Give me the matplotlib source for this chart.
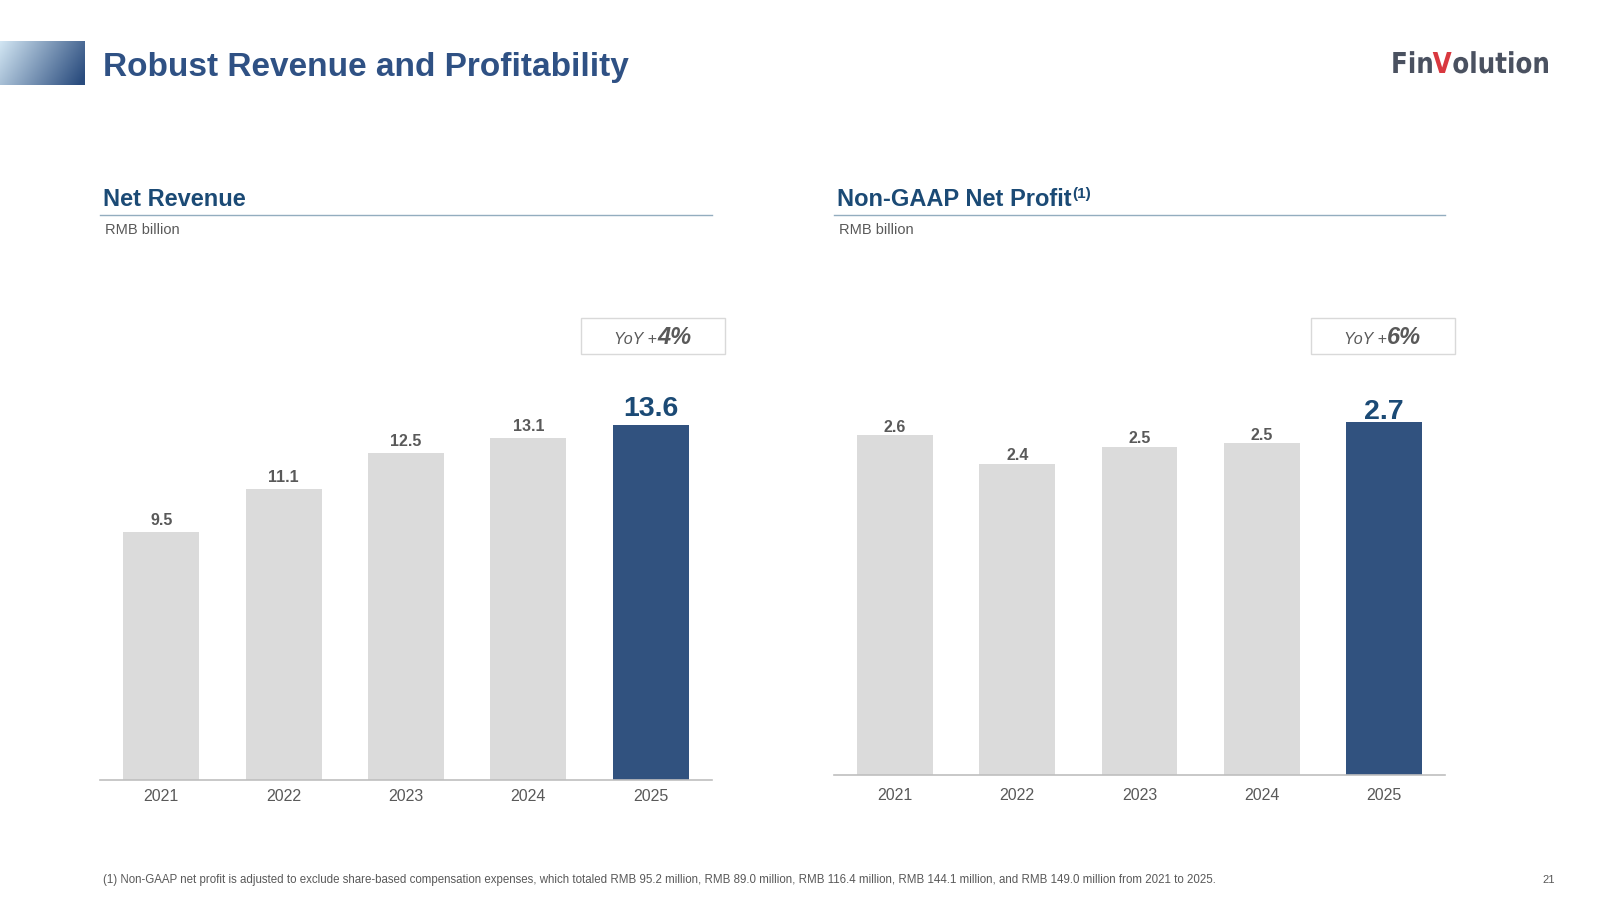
import numpy as np
import matplotlib
matplotlib.use("Agg")
import matplotlib.pyplot as plt
from matplotlib.patches import Rectangle, PathPatch
from matplotlib.textpath import TextPath
from matplotlib.font_manager import FontProperties
from matplotlib.transforms import Affine2D
from matplotlib.colors import to_rgb

plt.rcParams['font.family'] = ['Liberation Sans', 'DejaVu Sans']

years = ['2021', '2022', '2023', '2024', '2025']
revenue = [9.50, 11.14, 12.54, 13.09, 13.60]
profit = [2.60, 2.38, 2.51, 2.54, 2.70]
rev_yoy = '4%'
profit_yoy = '6%'
footnote = ("(1) Non-GAAP net profit is adjusted to exclude share-based compensation expenses, "
            "which totaled RMB 95.2 million, RMB 89.0 million, RMB 116.4 million, "
            "RMB 144.1 million, and RMB 149.0 million from 2021 to 2025.")

GRAY_BAR = '#DBDBDB'
BLUE_BAR = '#31527F'
LABEL_GRAY = '#595959'
DARK_BLUE = '#1B4A75'
TITLE_BLUE = '#2F5184'

W, H = 1600, 900
fig = plt.figure(figsize=(16, 9), dpi=100)

# background axes in pixel coords (y down)
bg = fig.add_axes([0, 0, 1, 1])
bg.set_xlim(0, W)
bg.set_ylim(H, 0)
bg.axis('off')

# gradient block top-left
c1 = np.array(to_rgb('#D2E6F3'))
c2 = np.array(to_rgb('#2A4C7E'))
gx, gy = np.meshgrid(np.linspace(0, 1, 120), np.linspace(0, 1, 60))
t = np.clip(0.8 * gx + 0.25 * gy, 0, 1)[..., None]
grad = c1 * (1 - t) + c2 * t
bg.imshow(grad, extent=[0, 85, 84.7, 40.8], aspect='auto', origin='upper', zorder=1)

bg.text(103, 76, 'Robust Revenue and Profitability', fontsize=24, fontweight='bold',
        color=TITLE_BLUE, va='baseline', ha='left')

# logo drawn as scaled text paths
fp = FontProperties(family='DejaVu Sans', weight='bold')
logo_parts = [('Fin', '#4A5160'), ('V', '#D9383F'), ('olution', '#4A5160')]
paths = [TextPath((0, 0), s, size=10, prop=fp) for s, _ in logo_parts]
x_off = 0
placed = []
for p in paths:
    ext = p.get_extents()
    placed.append(x_off)
    x_off += ext.x1 + 0.3
total_w = x_off - 0.3
cap = TextPath((0, 0), 'F', size=10, prop=fp).get_extents().y1
sx = 157 / total_w
sy = 21 / cap
for (s, col), p, xo in zip(logo_parts, paths, placed):
    tr = Affine2D().translate(xo, 0).scale(sx, -sy).translate(1391, 73)
    bg.add_patch(PathPatch(tr.transform_path(p), facecolor=col, edgecolor='none', zorder=3))

renderer = fig.canvas.get_renderer()


def sub_header(x0, x1, title, sup=None):
    t1 = bg.text(x0 + 3, 206, title, fontsize=17, fontweight='bold', color=DARK_BLUE,
                 va='baseline', ha='left')
    if sup:
        bb = t1.get_window_extent(renderer)
        bg.text(bb.x1 + 1, 198, sup, fontsize=11, fontweight='bold', color=DARK_BLUE,
                va='baseline', ha='left')
    bg.plot([x0, x1], [215.3, 215.3], color='#93ADBF', lw=1.0)
    bg.text(x0 + 5, 233.5, 'RMB billion', fontsize=10.5, color=LABEL_GRAY,
            va='baseline', ha='left')


sub_header(100, 712, 'Net Revenue')
sub_header(834, 1445, 'Non-GAAP Net Profit', '(1)')


def yoy_box(x0, x1, pct):
    bg.add_patch(Rectangle((x0, 318), x1 - x0, 36, facecolor='white',
                           edgecolor='#D9D9D9', lw=1.0, zorder=2))
    ta = bg.text(0, 344, 'YoY +', fontsize=11.5, style='italic', color=LABEL_GRAY,
                 va='baseline', ha='left', zorder=3)
    tb = bg.text(0, 344, pct, fontsize=17, style='italic', fontweight='bold',
                 color=LABEL_GRAY, va='baseline', ha='left', zorder=3)
    wa = ta.get_window_extent(renderer).width
    wb = tb.get_window_extent(renderer).width
    start = (x0 + x1) / 2 - (wa + wb) / 2
    ta.set_x(start)
    tb.set_x(start + wa)


yoy_box(580.6, 724.5, rev_yoy)
yoy_box(1311, 1455, profit_yoy)


def bar_chart(left, right, base, px_per_unit, ymax, values, lab_gap, big_gap, year_gap):
    height_px = ymax * px_per_unit
    ax = fig.add_axes([left / W, (H - base) / H, (right - left) / W, height_px / H])
    ax.patch.set_alpha(0)
    x = np.arange(len(values))
    colors = [GRAY_BAR] * (len(values) - 1) + [BLUE_BAR]
    ax.bar(x, values, width=0.62, color=colors, zorder=2)
    ax.set_xlim(-0.5, len(values) - 0.5)
    ax.set_ylim(0, ymax)
    for s in ['top', 'left', 'right']:
        ax.spines[s].set_visible(False)
    ax.spines['bottom'].set_color('#BFBFBF')
    ax.spines['bottom'].set_linewidth(1.2)
    ax.set_xticks([])
    ax.set_yticks([])
    for i, v in enumerate(values):
        last = i == len(values) - 1
        ax.annotate(f'{v:.1f}', (i, v), xytext=(0, big_gap if last else lab_gap),
                    textcoords='offset pixels', ha='center', va='baseline',
                    fontsize=20.5 if last else 11.5, fontweight='bold',
                    color=DARK_BLUE if last else LABEL_GRAY)
        ax.annotate(years[i], (i, 0), xytext=(0, -year_gap), textcoords='offset pixels',
                    ha='center', va='baseline', fontsize=11.5, color=LABEL_GRAY)
    return ax


bar_chart(100, 712, 780.3, 26.14, 16, revenue, 7, 8.5, 20.7)
bar_chart(834, 1445, 774.5, 130.5, 3.2, profit, 3.5, 3.5, 25.2)

bg.text(103, 883, footnote, fontsize=8.3, color=LABEL_GRAY, va='baseline', ha='left')
bg.text(1549, 883, '21', fontsize=8, color=LABEL_GRAY, va='baseline', ha='center')

fig.savefig('out.png', dpi=100)
